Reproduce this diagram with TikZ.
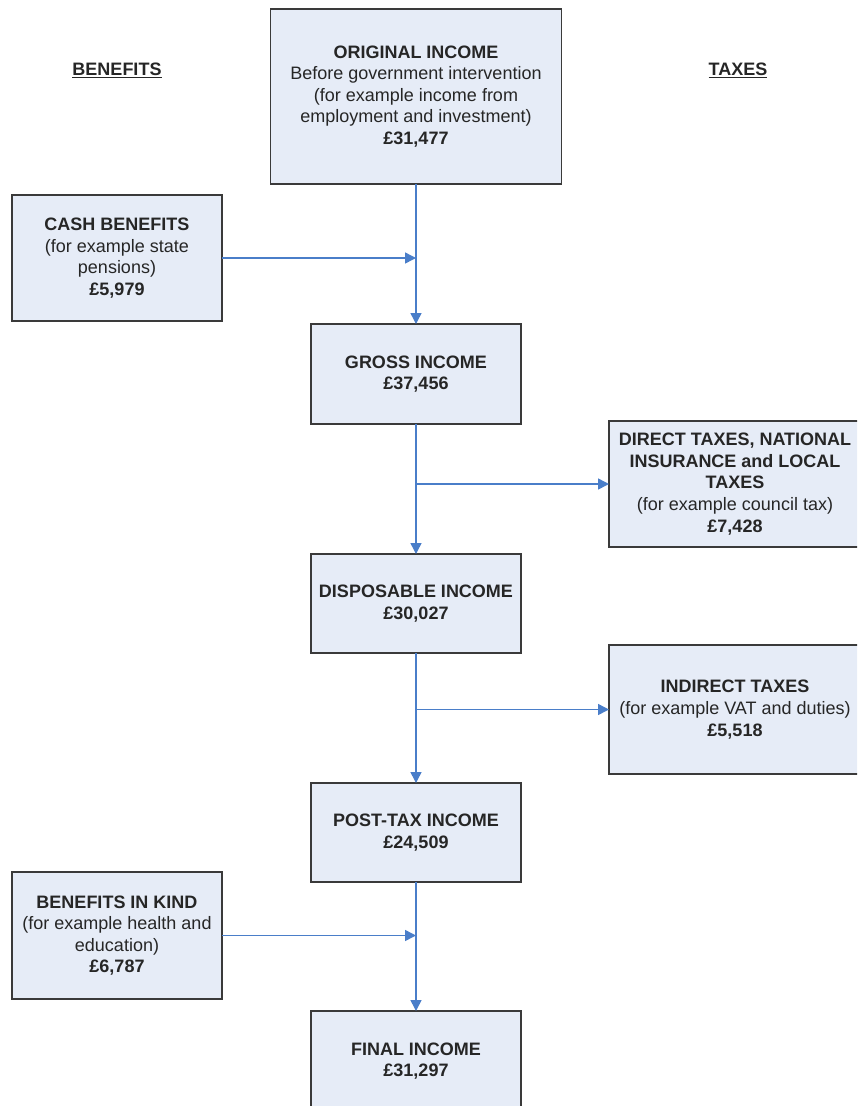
\documentclass[tikz,border=0pt]{standalone}
\usepackage{fontspec}
\setmainfont{Liberation Sans}
\usetikzlibrary{arrows.meta}

\definecolor{boxfill}{HTML}{E6ECF7}
\definecolor{boxline}{HTML}{3A3A3A}
\definecolor{flowblue}{HTML}{4A7EC9}
\definecolor{textgrey}{HTML}{262626}

\begin{document}
\begin{tikzpicture}[x=1pt,y=-1pt,
    box/.style={draw=boxline, line width=1.6pt, fill=boxfill, inner sep=0pt, outer sep=0pt,
        align=center, text=textgrey, font=\fontsize{18}{21.6}\selectfont},
    flow/.style={draw=flowblue, line width=1.5pt, -{Triangle[length=11pt,width=11pt]}},
    heading/.style={text=textgrey, font=\fontsize{18}{21.6}\selectfont\bfseries}]
    \useasboundingbox (0,0) rectangle (857,1106);
    \clip (0,0) rectangle (857,1106);

    % Column headings
    \node[heading] (benefits) at (117,70) {\underline{BENEFITS}};
    \node[heading] (taxes) at (738,70) {\underline{TAXES}};

    % Income boxes down the middle
    \node[box, minimum width=291pt, minimum height=175pt] (orig) at (416,96.5)
        {\textbf{ORIGINAL INCOME}\\Before government intervention\\(for example income from\\employment and investment)\\\textbf{£31,477}};
    \node[box, minimum width=210pt, minimum height=100pt] (gross) at (416,374)
        {\textbf{GROSS INCOME}\\\textbf{£37,456}};
    \node[box, minimum width=210pt, minimum height=99pt] (disp) at (416,603.5)
        {\textbf{DISPOSABLE INCOME}\\\textbf{£30,027}};
    \node[box, minimum width=210pt, minimum height=99pt] (posttax) at (416,832.5)
        {\textbf{POST-TAX INCOME}\\\textbf{£24,509}};
    \node[box, minimum width=210pt, minimum height=100pt] (final) at (416,1061)
        {\textbf{FINAL INCOME}\\\textbf{£31,297}};

    % Benefits on the left
    \node[box, minimum width=210pt, minimum height=126pt] (cash) at (117,258)
        {\textbf{CASH BENEFITS}\\(for example state\\pensions)\\\textbf{£5,979}};
    \node[box, minimum width=210pt, minimum height=127pt] (inkind) at (117,935.5)
        {\textbf{BENEFITS IN KIND}\\(for example health and\\education)\\\textbf{£6,787}};

    % Taxes on the right
    \node[box, minimum width=252pt, minimum height=126pt] (direct) at (735,484)
        {\textbf{DIRECT TAXES, NATIONAL}\\\textbf{INSURANCE and LOCAL}\\\textbf{TAXES}\\(for example council tax)\\\textbf{£7,428}};
    \node[box, minimum width=252pt, minimum height=129pt] (indirect) at (735,709.5)
        {\textbf{INDIRECT TAXES}\\(for example VAT and duties)\\\textbf{£5,518}};

    % Junctions on the main line
    \coordinate (cashin) at (orig.south |- cash.east);
    \coordinate (directout) at (gross.south |- direct.west);
    \coordinate (indirectout) at (disp.south |- indirect.west);
    \coordinate (inkindin) at (posttax.south |- inkind.east);

    % Draw the main flow
    \draw[flow] (orig) -- (gross);
    \draw[flow] (gross) -- (disp);
    \draw[flow] (disp) -- (posttax);
    \draw[flow] (posttax) -- (final);

    % Draw the side arrows
    \draw[flow] (cash) -- (cashin);
    \draw[flow] (directout) -- (direct);
    \draw[flow] (indirectout) -- (indirect);
    \draw[flow] (inkind) -- (inkindin);

\end{tikzpicture}
\end{document}
